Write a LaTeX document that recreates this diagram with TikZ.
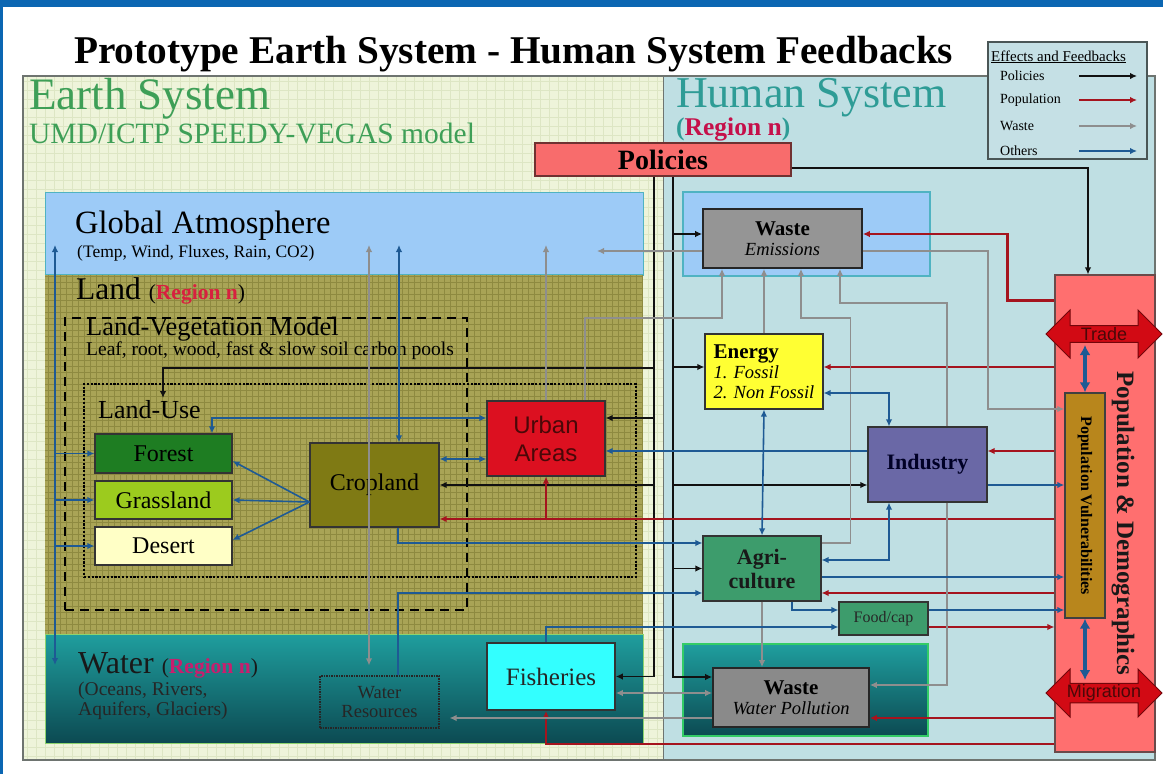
\documentclass[tikz,border=0pt]{standalone}
\usepackage{fontspec}
\setmainfont{Liberation Serif}
\newfontfamily\arialfont{Liberation Sans}
\usetikzlibrary{arrows.meta, calc, shapes.arrows}

\definecolor{topbar}{HTML}{0B66B2}
\definecolor{earthbg}{HTML}{EEF4DA}
\definecolor{earthgrid}{HTML}{DDE6C4}
\definecolor{humanbg}{HTML}{BFDFE3}
\definecolor{framec}{HTML}{6E7470}
\definecolor{atmos}{HTML}{9DCBF7}
\definecolor{atmosedge}{HTML}{4FB3C2}
\definecolor{land}{HTML}{A9A456}
\definecolor{landgrid}{HTML}{8E8A40}
\definecolor{watertop}{HTML}{1F9E9E}
\definecolor{waterbot}{HTML}{0C4A52}
\definecolor{wateredge}{HTML}{8CD46E}
\definecolor{hwateredge}{HTML}{33CC66}
\definecolor{earthgreen}{HTML}{3E9F57}
\definecolor{humanteal}{HTML}{2E9C96}
\definecolor{regionred}{HTML}{C5104A}
\definecolor{landred}{HTML}{D8203F}
\definecolor{waterpink}{HTML}{C81E6E}
\definecolor{policyred}{HTML}{F86C6C}
\definecolor{popred}{HTML}{FF6F6F}
\definecolor{popedge}{HTML}{6A4A4A}
\definecolor{arrowred}{HTML}{D20A14}
\definecolor{arrowtext}{HTML}{4A0808}
\definecolor{wastegrey}{HTML}{959595}
\definecolor{energyyel}{HTML}{FFFF33}
\definecolor{industryc}{HTML}{6A68A6}
\definecolor{agrigreen}{HTML}{3D9C6C}
\definecolor{fishcyan}{HTML}{33FFFF}
\definecolor{urbanred}{HTML}{DC1020}
\definecolor{cropolive}{HTML}{7F7A14}
\definecolor{forestc}{HTML}{1E7D22}
\definecolor{grassc}{HTML}{9CCB1E}
\definecolor{desertc}{HTML}{FFFFC6}
\definecolor{vulgold}{HTML}{B8861C}
\definecolor{polline}{HTML}{111111}
\definecolor{popline}{HTML}{A5141E}
\definecolor{wasteline}{HTML}{8E8E8E}
\definecolor{othline}{HTML}{1E5A94}
\definecolor{legendbg}{HTML}{C5E0E5}
\definecolor{legendedge}{HTML}{4A5656}

\tikzstyle{box}=[draw=black!80, line width=1.2pt, inner sep=0pt, align=center]
\tikzstyle{region}=[inner sep=0pt, line width=1pt]
\tikzstyle{lbl}=[anchor=base west, inner sep=0pt]
\tikzstyle{pol}=[draw=polline, line width=1.7pt, ->]
\tikzstyle{popu}=[draw=popline, line width=2.2pt, ->]
\tikzstyle{wst}=[draw=wasteline, line width=1.7pt, ->]
\tikzstyle{oth}=[draw=othline, line width=1.6pt, ->]
\tikzstyle{oththick}=[draw=othline, line width=3.6pt, <->, >={Latex[length=10pt,width=11pt]}]
\tikzstyle{bigarrow}=[double arrow, double arrow head extend=13pt, fill=arrowred, draw=arrowred!55!black, line width=1pt, minimum height=116pt, minimum width=48pt, inner sep=0pt, text=arrowtext, font=\arialfont\fontsize{18}{18}\selectfont]

\begin{document}
\begin{tikzpicture}[x=1pt, y=-1pt, >={Latex[length=7pt,width=6.5pt]}]
	\useasboundingbox (0,0) rectangle (1163,774);
	\fill[white] (0,0) rectangle (1163,774);
	\fill[topbar] (0,0) rectangle (1163,6.5);
	\fill[topbar] (0,0) rectangle (2.5,774);
	\fill[earthbg] (23,76) rectangle (663,760);
	\draw[earthgrid, line width=0.4pt, step=9pt] (23,760) grid (663,76);
	\fill[humanbg] (663,76) rectangle (1155,760);
	\draw[framec, line width=1.3pt] (23,76) rectangle (1155,760);
	\draw[framec, line width=1pt] (663,76) -- (663,760);

	\node[region, fill=atmos, draw=atmosedge, minimum width=598pt, minimum height=83pt] (atm) at (344,233.5) {};
	\node[region, fill=land, minimum width=598pt, minimum height=359pt] (landbox) at (344,454.5) {};
	\draw[landgrid, line width=0.35pt, step=6pt] (45,634) grid (643,275);
	\draw[atmosedge, line width=1pt] (landbox.north west) -- (landbox.north east);
	\node[region, top color=watertop, bottom color=waterbot, draw=wateredge, minimum width=598pt, minimum height=109pt] (waterbox) at (344,688.5) {};
	\node[region, fill=atmos, draw=atmosedge, line width=1.2pt, minimum width=247pt, minimum height=84pt] (hatm) at (806.5,234) {};
	\node[region, top color=watertop, bottom color=waterbot, draw=hwateredge, line width=1.6pt, minimum width=245pt, minimum height=92pt] (hwat) at (805.5,690) {};
	\node[region, fill=popred, draw=popedge, line width=1.2pt, minimum width=100pt, minimum height=477pt] (pop) at (1105,513.5) {};

	\node[lbl, font=\bfseries\fontsize{39.3}{41}\selectfont] (title) at (74,63) {Prototype Earth System - Human System Feedbacks};
	\node[lbl, text=earthgreen, font=\fontsize{45}{46}\selectfont] (earthlbl) at (29,109) {Earth System};
	\node[lbl, text=earthgreen, font=\fontsize{29.5}{30}\selectfont] (modellbl) at (29,143) {UMD/ICTP SPEEDY-VEGAS model};
	\node[lbl, text=humanteal, font=\fontsize{44}{46}\selectfont] (humanlbl) at (676,107) {Human System};
	\node[lbl, text=humanteal, font=\bfseries\fontsize{25.5}{28}\selectfont] (humanreg) at (676,135) {(\textcolor{regionred}{Region n})};
	\node[lbl, font=\fontsize{32.5}{33}\selectfont] (atmlbl) at (75,233) {Global Atmosphere};
	\node[lbl, font=\fontsize{17.5}{18}\selectfont] (atmsub) at (77,257) {(Temp, Wind, Fluxes, Rain, CO2)};
	\node[lbl, font=\fontsize{31.5}{32}\selectfont] (landlbl) at (76,299) {Land {\fontsize{21.5}{22}\selectfont(\textbf{\textcolor{landred}{Region n}})}};
	\node[lbl, text=black!90, font=\fontsize{32}{32}\selectfont] (waterlbl) at (78,673) {Water {\fontsize{21.5}{22}\selectfont(\textbf{\textcolor{waterpink}{Region n}})}};
	\node[lbl, text=black!85, font=\fontsize{19.5}{20}\selectfont] (watersub1) at (78,695) {(Oceans, Rivers,};
	\node[lbl, text=black!85, font=\fontsize{19.5}{20}\selectfont] (watersub2) at (78,715) {Aquifers, Glaciers)};

	\node[draw=black, line width=2.4pt, dash pattern=on 9pt off 6pt, minimum width=402pt, minimum height=292pt, inner sep=0pt] (lvm) at (266,464) {};
	\node[lbl, font=\fontsize{26.5}{27}\selectfont] (lvmtitle) at (86,335) {Land-Vegetation Model};
	\node[lbl, font=\fontsize{19.5}{20}\selectfont] (lvmsub) at (86,355) {Leaf, root, wood, fast \& slow soil carbon pools};
	\node[draw=black, line width=2.6pt, dash pattern=on 2.2pt off 1.6pt, minimum width=552pt, minimum height=193pt, inner sep=0pt] (landuse) at (360,480.5) {};
	\node[lbl, font=\fontsize{26}{26}\selectfont] (lutitle) at (98,418) {Land-Use};

	\node[box, fill=forestc, minimum width=137pt, minimum height=39pt, font=\fontsize{24}{24}\selectfont] (forest) at (163.5,453.5) {Forest};
	\node[box, fill=grassc, minimum width=137pt, minimum height=38pt, font=\fontsize{24}{24}\selectfont] (grass) at (163.5,500) {Grassland};
	\node[box, fill=desertc, minimum width=137pt, minimum height=38pt, font=\fontsize{24}{24}\selectfont] (desert) at (163.5,546) {Desert};
	\node[box, fill=cropolive, minimum width=129pt, minimum height=84pt, font=\fontsize{24}{24}\selectfont] (crop) at (374.5,485) {Cropland};
	\node[box, fill=urbanred, minimum width=118pt, minimum height=75pt, text=arrowtext, font=\arialfont\fontsize{24}{28}\selectfont] (urban) at (546,438.5) {Urban\\Areas};
	\node[box, fill=fishcyan, minimum width=128pt, minimum height=67pt, line width=1.6pt, text=black!85, font=\fontsize{25}{26}\selectfont] (fish) at (551,676.5) {Fisheries};
	\node[box, draw=black!85, line width=1.2pt, dash pattern=on 1.5pt off 1pt, minimum width=119pt, minimum height=52pt, text=black!85, font=\fontsize{18.5}{19.5}\selectfont] (watres) at (379.5,702) {Water\\Resources};

	\node[box, fill=policyred, draw=policyred!45!black, minimum width=256pt, minimum height=33pt, font=\bfseries\fontsize{28}{28}\selectfont] (policies) at (663,159.5) {Policies};
	\node[box, fill=wastegrey, draw=black!85, line width=1.6pt, minimum width=159pt, minimum height=59pt, font=\fontsize{21}{20}\selectfont] (wasteEm) at (782.5,238.5) {\textbf{Waste}\\{\itshape\fontsize{18.5}{20}\selectfont Emissions}};
	\node[box, fill=energyyel, minimum width=118pt, minimum height=75pt, align=left, font=\fontsize{21}{20}\selectfont] (energy) at (764,371.5) {\textbf{Energy}\\{\itshape\fontsize{18.5}{20}\selectfont 1. Fossil}\\{\itshape\fontsize{18.5}{20}\selectfont 2. Non Fossil}};
	\node[box, fill=industryc, minimum width=119pt, minimum height=75pt, text=black!85!blue, font=\bfseries\fontsize{22}{22}\selectfont] (industry) at (927.5,464.5) {Industry};
	\node[box, fill=agrigreen, minimum width=118pt, minimum height=65pt, text=black!90, font=\bfseries\fontsize{22}{24}\selectfont] (agri) at (762,568.5) {Agri-\\culture};
	\node[box, fill=agrigreen, minimum width=89pt, minimum height=33pt, text=black!85, font=\fontsize{16}{16}\selectfont] (food) at (883.5,618.5) {Food/cap};
	\node[box, fill=wastegrey!110, draw=black!85, line width=1.6pt, minimum width=156pt, minimum height=59pt, font=\fontsize{21}{20}\selectfont] (wastePol) at (791,697.5) {\textbf{Waste}\\{\itshape\fontsize{18.5}{20}\selectfont Water Pollution}};
	\node[box, fill=vulgold, draw=black!75, line width=1.4pt, minimum width=40pt, minimum height=225pt] (popvul) at (1085,505.5) {};
	\node[rotate=-90, inner sep=0pt, font=\bfseries\fontsize{16}{16}\selectfont] (vultext) at (popvul.center) {Population Vulnerabilities};
	\node[rotate=-90, inner sep=0pt, text=black!90, font=\bfseries\fontsize{25}{25}\selectfont] (poptext) at (1123,523.5) {Population \& Demographics};
	\node[bigarrow] (trade) at (1104,334) {Trade};
	\node[bigarrow] (migration) at (1104,693) {Migration};

	\node[draw=legendedge, fill=legendbg, line width=1.4pt, minimum width=159pt, minimum height=117pt, inner sep=0pt] (legend) at (1067.5,100.5) {};
	\node[lbl, font=\fontsize{15}{15}\selectfont] (legtitle) at (991,61) {\underline{Effects and Feedbacks}};
	\foreach \lab/\sty/\yy in {Policies/pol/76,Population/popu/100,Waste/wst/126,Others/oth/151}{
		\node[anchor=west, inner sep=0pt, font=\fontsize{14}{14}\selectfont] (leg\lab) at (1000,\yy) {\lab};
		\coordinate (ls\lab) at (1079,\yy);
		\draw[\sty] (ls\lab) -- ++(58,0);
	}

	\coordinate (atmA) at (55,245);
	\coordinate (atmB) at (369,245);
	\coordinate (atmC) at (399,245);
	\coordinate (atmD) at (546,245);
	\coordinate (atmE) at (597,251);
	\coordinate (watA) at (55,665);
	\coordinate (lubend) at (163,368);
	\coordinate (luin) at (163,398);

	\coordinate (pl) at ($(policies.south)+(-9,0)$);
	\coordinate (pr) at ($(policies.south)+(10,0)$);
	\coordinate (urbE1) at ($(urban.east)+(0,-20.5)$);
	\coordinate (urbE2) at ($(urban.east)+(0,12.5)$);
	\coordinate (urbW1) at ($(urban.west)+(0,-20.5)$);
	\coordinate (urbW2) at ($(urban.west)+(0,20.5)$);
	\coordinate (urbN2) at ($(urban.north)+(39,0)$);
	\coordinate (wemW1) at ($(wasteEm.west)+(0,-4.5)$);
	\coordinate (wemW2) at ($(wasteEm.west)+(0,12.5)$);
	\coordinate (wemE1) at ($(wasteEm.east)+(0,-4.5)$);
	\coordinate (wemE2) at ($(wasteEm.east)+(0,12.5)$);
	\coordinate (wemS1) at ($(wasteEm.south)+(-60.5,0)$);
	\coordinate (wemS3) at ($(wasteEm.south)+(18.5,0)$);
	\coordinate (wemS4) at ($(wasteEm.south)+(57.5,0)$);
	\coordinate (enW) at ($(energy.west)+(0,-4.5)$);
	\coordinate (enE1) at ($(energy.east)+(0,-4.5)$);
	\coordinate (enE2) at ($(energy.east)+(0,21.5)$);
	\coordinate (indW2) at ($(industry.west)+(0,20.5)$);
	\coordinate (indE1) at ($(industry.east)+(0,-13.5)$);
	\coordinate (indE2) at ($(industry.east)+(0,20.5)$);
	\coordinate (indN1) at ($(industry.north)+(-38.5,0)$);
	\coordinate (indN2) at ($(industry.north)+(19.5,0)$);
	\coordinate (indS1) at ($(industry.south)+(-38.5,0)$);
	\coordinate (indS2) at ($(industry.south)+(19.5,0)$);
	\coordinate (cropN) at ($(crop.north)+(24.5,0)$);
	\coordinate (cropS) at ($(crop.south)+(23.5,0)$);
	\coordinate (cropW) at ($(crop.west)+(0,17)$);
	\coordinate (cropE2) at ($(crop.east)+(0,34)$);
	\coordinate (forN) at ($(forest.north)+(48.5,0)$);
	\coordinate (agriW1) at ($(agri.west)+(0,-25.5)$);
	\coordinate (agriW3) at ($(agri.west)+(0,24.5)$);
	\coordinate (agriE1) at ($(agri.east)+(0,-25.5)$);
	\coordinate (agriE2) at ($(agri.east)+(0,-8.5)$);
	\coordinate (agriE3) at ($(agri.east)+(0,24.5)$);
	\coordinate (agriE4) at ($(agri.east)+(0,8.5)$);
	\coordinate (agriS2) at ($(agri.south)+(30,0)$);
	\coordinate (foodW1) at ($(food.west)+(0,-8.5)$);
	\coordinate (foodW2) at ($(food.west)+(0,8.5)$);
	\coordinate (foodE1) at ($(food.east)+(0,-8.5)$);
	\coordinate (foodE2) at ($(food.east)+(0,8.5)$);
	\coordinate (wpin) at ($(wastePol.west)+(0,-20.5)$);
	\coordinate (wpW2) at ($(wastePol.west)+(0,-4.5)$);
	\coordinate (wpW3) at ($(wastePol.west)+(0,20.5)$);
	\coordinate (wpE1) at ($(wastePol.east)+(0,-12.5)$);
	\coordinate (wpE2) at ($(wastePol.east)+(0,20.5)$);
	\coordinate (fishN) at ($(fish.north)+(-5,0)$);
	\coordinate (fishS) at ($(fish.south)+(-5,0)$);
	\coordinate (redlow) at ($(fishS)+(0,33)$);
	\coordinate (wrN1) at ($(watres.north)+(-10.5,0)$);
	\coordinate (wrN2) at ($(watres.north)+(18.5,0)$);
	\coordinate (popW1) at ($(pop.north west)+(0,26)$);
	\coordinate (tradeS) at ($(trade.center)+(-19,11)$);
	\coordinate (migN) at ($(migration.center)+(-19,-13)$);

	\draw[pol] (pl) |- (fish.east);
	\draw[pol] (pr) |- (wpin);
	\draw[pol] (pl |- lubend) -- (lubend) -- (luin);
	\draw[pol] (pl |- urbE1) -- (urbE1);
	\draw[pol] (pl |- crop.east) -- (crop.east);
	\draw[pol] (pr |- wemW1) -- (wemW1);
	\draw[pol] (pr |- enW) -- (enW);
	\draw[pol] (pr |- indW2) -- (indW2);
	\draw[pol] (pr |- agri.west) -- (agri.west);
	\draw[pol] ($(policies.east)+(0,8.5)$) -| ($(pop.north)+(-17,0)$);

	\draw[popu] (popW1) -- ++(-47,0) |- (wemE1);
	\draw[popu] (pop.west |- enE1) -- (enE1);
	\draw[popu] (pop.west |- indE1) -- (indE1);
	\draw[popu] (pop.west |- cropE2) -- (cropE2);
	\draw[popu] (urban.south |- cropE2) -- (urban.south);
	\draw[popu] (pop.west |- agriE3) -- (agriE3);
	\draw[popu] (foodE2) -- (pop.west |- foodE2);
	\draw[popu] (pop.west |- wpE2) -- (wpE2);
	\draw[popu] (pop.west |- redlow) -| (fishS);

	\draw[wst] (wemW2) -- (atmE);
	\draw[wst] (urban.north) -- (atmD);
	\draw[wst] (urbN2) |- ($(wemS1)+(0,49)$) -- (wemS1);
	\draw[wst] (energy.north) -- (energy.north |- wasteEm.south);
	\draw[wst] (agriE1) -- ++(29,0) |- ($(wemS3)+(0,49)$) -- (wemS3);
	\draw[wst] (indN2) |- ($(wemS4)+(0,34)$) -- (wemS4);
	\draw[wst] (wemE2) -- ++(125,0) |- ($(popvul.west)+(0,-96.5)$);
	\draw[wst] (indS2) |- (wpE1);
	\draw[wst] (agri.south) -- (agri.south |- wastePol.north);
	\draw[wst, <->] (wpW2) -- (fish.east |- wpW2);
	\draw[wst, shorten >=10pt] (wpW3) -- (watres.east |- wpW3);
	\draw[wst, <->, shorten >=10pt] (atmB) -- (wrN1);

	\draw[oth, <->] (atmA) -- (watA);
	\foreach \n in {forest, grass, desert}{
		\draw[oth] (atmA |- \n.west) -- (\n.west);
	}
	\draw[oth, <->] (atmC) -- (cropN);
	\draw[oth] (cropS) |- (agriW1);
	\draw[oth] (wrN2) |- (agriW3);
	\draw[oth] (cropW) -- ($(forest.east)+(0,7.5)$);
	\draw[oth] (cropW) -- (grass.east);
	\draw[oth] (cropW) -- ($(desert.east)+(0,-6)$);
	\draw[oth, <->] (forN) |- (urbW1);
	\draw[oth, <->] (crop.east |- urbW2) -- (urbW2);
	\draw[oth] (industry.west |- urbE2) -- (urbE2);
	\draw[oth, <->] (enE2) -| (indN1);
	\draw[oth, <->] (energy.south) -- (agri.north);
	\draw[oth, <->] (indS1) |- (agriE2);
	\draw[oth] (indE2) -- (popvul.west |- indE2);
	\draw[oth] (agriE4) -- (popvul.west |- agriE4);
	\draw[oth] (agriS2) |- (foodW1);
	\draw[oth] (foodE1) -- (popvul.west |- foodE1);
	\draw[oth] (fishN) |- (foodW2);
	\draw[oththick] (tradeS) -- (popvul.north);
	\draw[oththick] (popvul.south) -- (migN);
\end{tikzpicture}
\end{document}
